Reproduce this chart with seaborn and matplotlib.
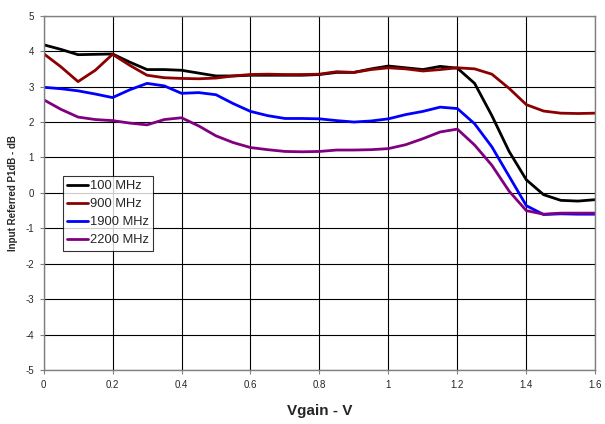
import numpy as np
import pandas as pd
import matplotlib
matplotlib.use("Agg")
import matplotlib.pyplot as plt
import seaborn as sns

# Vgain sweep (V)
vgain = [0.00, 0.05, 0.10, 0.15, 0.20, 0.25, 0.30, 0.35, 0.40, 0.45,
         0.50, 0.55, 0.60, 0.65, 0.70, 0.75, 0.80, 0.85, 0.90, 0.95,
         1.00, 1.05, 1.10, 1.15, 1.20, 1.25, 1.30, 1.35, 1.40, 1.45,
         1.50, 1.55, 1.60]

# Input referred P1dB (dB) per frequency
p1db_100 = [4.18, 4.05, 3.90, 3.91, 3.92, 3.69, 3.48, 3.48, 3.46, 3.38,
            3.30, 3.30, 3.32, 3.32, 3.32, 3.32, 3.34, 3.40, 3.40, 3.50,
            3.58, 3.53, 3.48, 3.57, 3.52, 3.09, 2.18, 1.17, 0.37, -0.05,
            -0.21, -0.23, -0.19]
p1db_900 = [3.93, 3.56, 3.14, 3.46, 3.91, 3.60, 3.32, 3.25, 3.23, 3.22,
            3.24, 3.30, 3.34, 3.35, 3.34, 3.34, 3.35, 3.42, 3.40, 3.48,
            3.53, 3.50, 3.44, 3.48, 3.53, 3.50, 3.35, 2.95, 2.49, 2.31,
            2.25, 2.24, 2.25]
p1db_1900 = [2.98, 2.94, 2.88, 2.79, 2.69, 2.91, 3.09, 3.02, 2.81, 2.83,
             2.77, 2.52, 2.30, 2.18, 2.10, 2.10, 2.09, 2.04, 2.00, 2.03,
             2.09, 2.21, 2.30, 2.42, 2.38, 1.95, 1.30, 0.47, -0.36, -0.61,
             -0.59, -0.60, -0.60]
p1db_2200 = [2.63, 2.36, 2.14, 2.07, 2.04, 1.97, 1.92, 2.07, 2.12, 1.89,
             1.61, 1.42, 1.28, 1.22, 1.17, 1.16, 1.17, 1.21, 1.21, 1.22,
             1.25, 1.36, 1.53, 1.72, 1.80, 1.35, 0.78, 0.05, -0.50, -0.60,
             -0.57, -0.57, -0.57]

labels = ["100 MHz", "900 MHz", "1900 MHz", "2200 MHz"]
colors = ["#000000", "#8B0000", "#0000FF", "#800080"]

frames = []
for lab, vals in zip(labels, [p1db_100, p1db_900, p1db_1900, p1db_2200]):
    frames.append(pd.DataFrame({"Vgain": vgain, "P1dB": vals, "Freq": lab}))
df = pd.concat(frames, ignore_index=True)

sns.set_style("white")
plt.rcParams["font.family"] = ["Liberation Sans", "DejaVu Sans"]
plt.rcParams["axes.unicode_minus"] = False

fig = plt.figure(figsize=(6.05, 4.24), dpi=100)
ax = fig.add_axes([0.072, 0.127, 0.912, 0.836])

sns.lineplot(data=df, x="Vgain", y="P1dB", hue="Freq", palette=colors,
             linewidth=2.0, ax=ax, sort=False)

ax.set_xlim(0, 1.6)
ax.set_ylim(-5, 5)
ax.set_xticks(np.arange(0, 1.61, 0.2))
ax.set_xticklabels(["0", "0.2", "0.4", "0.6", "0.8", "1", "1.2", "1.4", "1.6"])
ax.set_yticks(range(-5, 6))
ax.grid(True, color="black", linewidth=0.8)
ax.set_axisbelow(True)
for s in ax.spines.values():
    s.set_color("#808080")
    s.set_linewidth(1.0)
ax.tick_params(axis="both", direction="out", length=3, width=0.8,
               color="#808080", labelsize=7, pad=4, bottom=True, left=True)

ax.set_xlabel("Vgain - V", fontsize=11, fontweight="bold", labelpad=10)
ax.set_ylabel("Input Referred P1dB - dB", fontsize=7, fontweight="bold", labelpad=5)

leg = ax.legend(loc="upper left", bbox_to_anchor=(0.035, 0.548),
                borderaxespad=0, fontsize=9.3, frameon=True, fancybox=False,
                handlelength=1.6, handletextpad=0.15, borderpad=0.35,
                labelspacing=0.45)
leg.get_frame().set_edgecolor("black")
leg.get_frame().set_linewidth(0.8)

fig.savefig("out.png", dpi=100)
